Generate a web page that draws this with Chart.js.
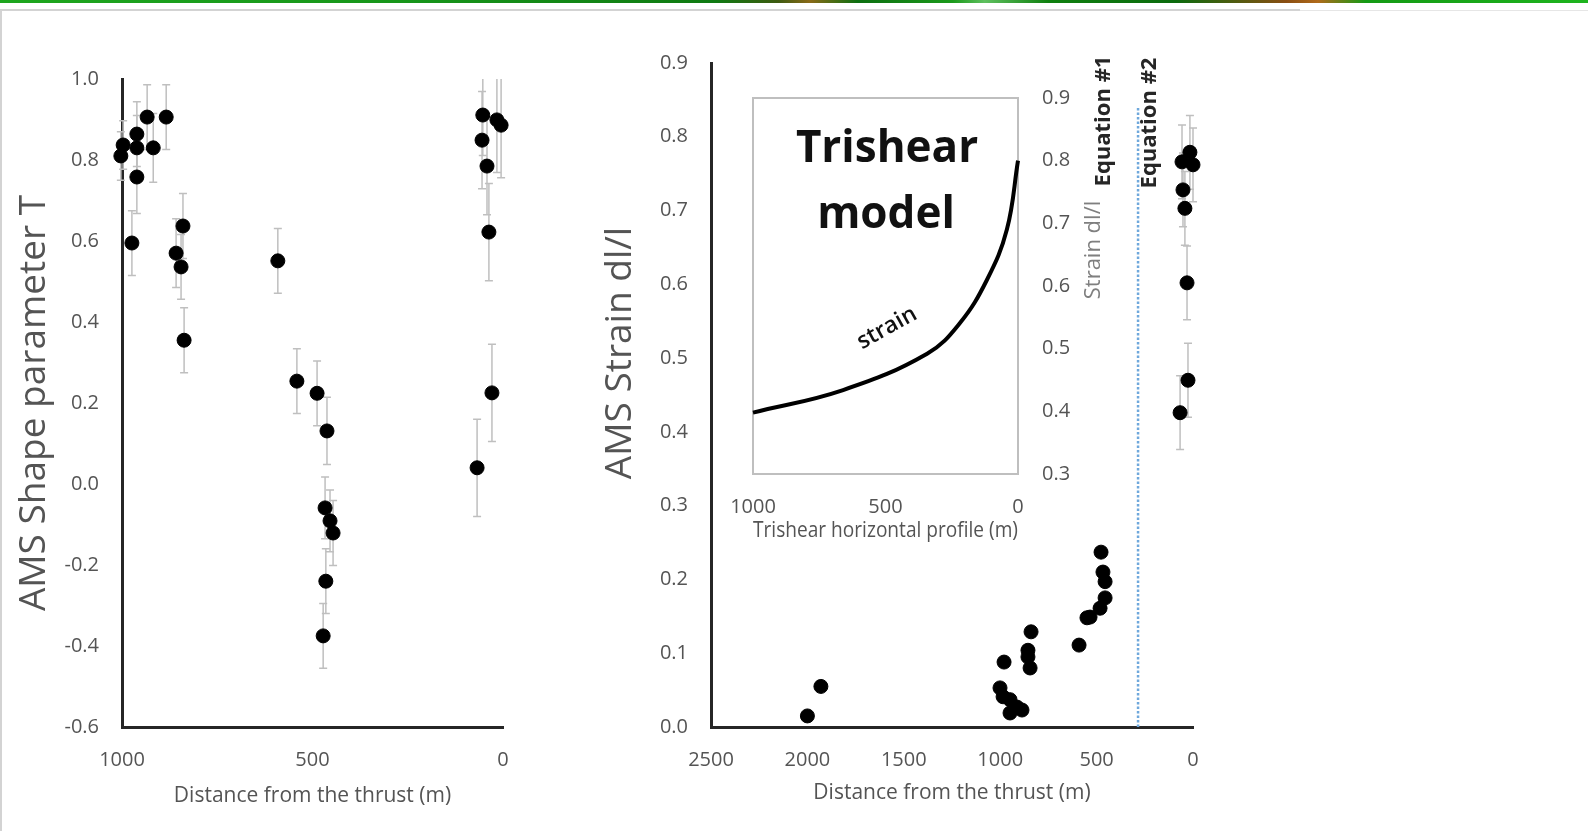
<!DOCTYPE html>
<html>
<head>
<meta charset="utf-8">
<title>AMS shape parameter and strain vs distance from the thrust</title>
<script src="https://cdn.jsdelivr.net/npm/chart.js@4.4.0/dist/chart.umd.min.js"></script>
<style>
  html, body { margin: 0; padding: 0; background: #fff; }
  body { width: 1588px; height: 831px; position: relative; overflow: hidden; }
  #topbar {
    position: absolute; left: 0; top: 0; width: 1588px; height: 3px;
    background: linear-gradient(90deg, #1ea61e 0%, #17961a 25%, #0f7a12 45%, #3d5a10 49%, #8a6a18 51%, #0c6e10 54%,
      #1b9a1b 60%, #5fc05f 62%, #0f800f 66%, #0b6a0d 74%, #8a4e12 81%, #b06a1a 83%, #149a14 86%, #1eb41e 100%);
  }
  #frame {
    position: absolute; left: 0; top: 9px; width: 1300px; height: 822px;
    border-top: 2px solid #d3d3d3; border-left: 2px solid #d3d3d3; box-sizing: border-box;
  }
  #frame2 { position: absolute; left: 1300px; top: 10px; width: 288px; height: 1px; background: #e6e6e6; }
  canvas { position: absolute; }
  #shapeChart { left: 0; top: 0; }
  #strainChart { left: 560px; top: 0; }
  #insetChart { left: 700px; top: 60px; }
</style>
</head>
<body>
<div id="topbar"></div>
<div id="frame"></div>
<div id="frame2"></div>
<canvas id="shapeChart" width="560" height="831"></canvas>
<canvas id="strainChart" width="740" height="831"></canvas>
<canvas id="insetChart" width="430" height="500"></canvas>
<script>
  // left panel: AMS shape parameter T
  const shapeDist = [1003, 997, 961, 961, 961, 934, 918, 884, 974, 858, 845, 840, 837,
    591, 541, 488, 462, 467, 454, 446, 465, 472, 68, 29, 37, 42, 55, 53, 16, 5];
  const shapeT = [0.81, 0.837, 0.83, 0.864, 0.758, 0.906, 0.83, 0.906, 0.595, 0.57, 0.536, 0.637, 0.355,
    0.551, 0.254, 0.224, 0.131, -0.059, -0.091, -0.121, -0.24, -0.375, 0.04, 0.225, 0.622, 0.785, 0.849, 0.911, 0.899, 0.886];
  const shapeErr = [0.06, 0.06, 0.08, 0.08, 0.09, 0.08, 0.085, 0.08, 0.08, 0.085, 0.08, 0.08, 0.08,
    0.08, 0.08, 0.08, 0.083, 0.076, 0.076, 0.08, 0.08, 0.08, 0.12, 0.12, 0.12, 0.12, 0.12, 0.1, 0.13, 0.13];

  // right panel: AMS strain dl/l
  const strainDist = [2000, 1930, 980, 1001, 985, 949, 913, 887, 949, 840, 856, 856, 845,
    591, 550, 534, 482, 456, 456, 467, 477, 67, 26, 31, 42, 52, 57, 16, 0];
  const strainVal = [0.015, 0.055, 0.088, 0.053, 0.041, 0.037, 0.027, 0.023, 0.019, 0.129, 0.104, 0.095, 0.080,
    0.111, 0.148, 0.149, 0.161, 0.175, 0.197, 0.210, 0.237, 0.426, 0.470, 0.602, 0.703, 0.728, 0.766, 0.779, 0.762];
  const strainErr = [0.006, 0.006, 0.006, 0.006, 0.006, 0.006, 0.006, 0.006, 0.006, 0.006, 0.006, 0.006, 0.006,
    0.006, 0.006, 0.006, 0.006, 0.006, 0.006, 0.006, 0.006, 0.05, 0.05, 0.05, 0.05, 0.05, 0.05, 0.05, 0.05];

  // dotted limit line between equation #1 and #2
  const eqLineDist = 285;
  const eqLineTop = 0.84;

  // inset: trishear model strain profile
  const trishearDist = [1000, 660, 343, 219, 117, 42, 0];
  const trishearStrain = [0.398, 0.434, 0.492, 0.541, 0.61, 0.69, 0.80];

  Chart.defaults.font.family = "'Open Sans', sans-serif";
  Chart.defaults.color = '#545454';

  const fmt1 = v => (Math.abs(v) < 1e-9 ? 0 : v).toFixed(1);

  const errorBars = {
    id: 'errorBars',
    beforeDatasetsDraw(chart) {
      const { ctx, chartArea, scales } = chart;
      ctx.save();
      ctx.beginPath();
      ctx.rect(chartArea.left - 30, chartArea.top, chartArea.width + 60, chartArea.height);
      ctx.clip();
      ctx.strokeStyle = '#bfbfbf';
      ctx.lineWidth = 1.5;
      chart.data.datasets.forEach(ds => {
        if (!ds.errors) return;
        ds.data.forEach((p, i) => {
          const e = ds.errors[i];
          const x = scales.x.getPixelForValue(p.x);
          const y1 = scales.y.getPixelForValue(p.y + e);
          const y2 = scales.y.getPixelForValue(p.y - e);
          ctx.beginPath();
          ctx.moveTo(x, y1); ctx.lineTo(x, y2);
          ctx.moveTo(x - 4, y1); ctx.lineTo(x + 4, y1);
          ctx.moveTo(x - 4, y2); ctx.lineTo(x + 4, y2);
          ctx.stroke();
        });
      });
      ctx.restore();
    }
  };

  const notes = {
    id: 'notes',
    afterDraw(chart, args, opts) {
      const ctx = chart.ctx;
      (opts.items || []).forEach(n => {
        ctx.save();
        ctx.translate(n.x, n.y);
        ctx.rotate((n.angle || 0) * Math.PI / 180);
        ctx.font = n.font;
        ctx.fillStyle = n.color;
        ctx.textAlign = 'center';
        ctx.textBaseline = n.baseline || 'middle';
        ctx.fillText(n.text, 0, 0);
        ctx.restore();
      });
    }
  };

  const frameBox = {
    id: 'frameBox',
    beforeDatasetsDraw(chart) {
      const { ctx, chartArea } = chart;
      ctx.save();
      ctx.strokeStyle = '#bfbfbf';
      ctx.lineWidth = 2;
      ctx.strokeRect(chartArea.left, chartArea.top, chartArea.width, chartArea.height);
      ctx.restore();
    }
  };

  const axisBorder = { display: true, color: '#262626', width: 3 };
  const noGrid = { display: false, drawTicks: false };

  new Chart(document.getElementById('shapeChart'), {
    type: 'scatter',
    data: {
      datasets: [{
        data: shapeDist.map((d, i) => ({ x: d, y: shapeT[i] })),
        errors: shapeErr,
        backgroundColor: '#000',
        borderColor: '#000',
        pointRadius: 7,
        pointHoverRadius: 7,
        clip: false
      }]
    },
    options: {
      responsive: false,
      animation: false,
      layout: { padding: { top: 79, right: 57, left: 0, bottom: 0 } },
      plugins: { legend: { display: false }, tooltip: { enabled: false } },
      scales: {
        x: {
          type: 'linear', min: 0, max: 1000, reverse: true,
          grid: noGrid, border: axisBorder,
          ticks: { stepSize: 500, padding: 21, font: { size: 20 }, maxRotation: 0, callback: v => String(v) },
          title: { display: true, text: 'Distance from the thrust (m)', font: { size: 21 }, padding: { top: 0, bottom: 22 } },
          afterFit: s => { s.height = 104; }
        },
        y: {
          min: -0.6, max: 1.0,
          grid: noGrid, border: axisBorder,
          ticks: { stepSize: 0.2, padding: 23, font: { size: 20 }, callback: v => fmt1(v) },
          title: { display: true, text: 'AMS Shape parameter T', font: { size: 37 }, padding: { top: 12, bottom: 0 } },
          afterFit: s => { s.width = 122; }
        }
      }
    },
    plugins: [errorBars]
  });

  new Chart(document.getElementById('strainChart'), {
    type: 'scatter',
    data: {
      datasets: [{
        data: strainDist.map((d, i) => ({ x: d, y: strainVal[i] })),
        errors: strainErr,
        backgroundColor: '#000',
        borderColor: '#000',
        pointRadius: 7,
        pointHoverRadius: 7,
        clip: false,
        order: 1
      }, {
        type: 'line',
        data: [{ x: eqLineDist, y: 0 }, { x: eqLineDist, y: eqLineTop }],
        borderColor: '#6fa8dc',
        borderWidth: 2.5,
        borderDash: [2.5, 2],
        pointRadius: 0,
        order: 2
      }]
    },
    options: {
      responsive: false,
      animation: false,
      layout: { padding: { top: 63, right: 107, left: 0, bottom: 0 } },
      plugins: {
        legend: { display: false }, tooltip: { enabled: false },
        notes: {
          items: [
            { text: 'AMS Strain dl/l', x: 60, y: 353, angle: -90, font: "37px 'Open Sans'", color: '#545454' },
            { text: 'Equation #1', x: 544, y: 121, angle: -90, font: "bold 22px 'Open Sans'", color: '#262626' },
            { text: 'Equation #2', x: 590, y: 123, angle: -90, font: "bold 22px 'Open Sans'", color: '#262626' }
          ]
        }
      },
      scales: {
        x: {
          type: 'linear', min: 0, max: 2500, reverse: true,
          grid: noGrid, border: axisBorder,
          ticks: { stepSize: 500, padding: 21, font: { size: 20 }, maxRotation: 0, callback: v => String(v) },
          title: { display: true, text: 'Distance from the thrust (m)', font: { size: 21 }, padding: { top: 0, bottom: 25 } },
          afterFit: s => { s.height = 104; }
        },
        y: {
          min: 0, max: 0.9,
          grid: noGrid, border: axisBorder,
          ticks: { stepSize: 0.1, padding: 23, font: { size: 20 }, callback: v => fmt1(v) },
          afterFit: s => { s.width = 151; }
        }
      }
    },
    plugins: [errorBars, notes]
  });

  new Chart(document.getElementById('insetChart'), {
    type: 'scatter',
    data: {
      datasets: [{
        type: 'line',
        data: trishearDist.map((d, i) => ({ x: d, y: trishearStrain[i] })),
        borderColor: '#000',
        borderWidth: 4,
        tension: 0.4,
        pointRadius: 0,
        clip: false
      }]
    },
    options: {
      responsive: false,
      animation: false,
      layout: { padding: { top: 38, right: 0, left: 53, bottom: 0 } },
      plugins: {
        legend: { display: false }, tooltip: { enabled: false },
        notes: {
          items: [
            { text: 'Trishear', x: 187, y: 102, baseline: 'alphabetic', font: "bold 44px 'Open Sans'", color: '#111' },
            { text: 'model', x: 186, y: 168, baseline: 'alphabetic', font: "bold 44px 'Open Sans'", color: '#111' },
            { text: 'strain', x: 187, y: 268, angle: -29, font: "600 23px 'Open Sans'", color: '#111' },
            { text: 'Strain dl/l', x: 394, y: 190, angle: -90, font: "22px 'Open Sans'", color: '#7f7f7f' }
          ]
        }
      },
      scales: {
        x: {
          type: 'linear', min: 0, max: 1000, reverse: true,
          grid: noGrid, border: { display: false },
          ticks: { stepSize: 500, padding: 21, font: { size: 20 }, maxRotation: 0, callback: v => String(v) },
          title: { display: true, text: 'Trishear horizontal profile (m)', font: { size: 21 }, padding: { top: 0, bottom: 16 } },
          afterFit: s => { s.height = 86; }
        },
        y: {
          position: 'right', min: 0.3, max: 0.9,
          grid: noGrid, border: { display: false },
          ticks: { stepSize: 0.1, padding: 24, font: { size: 20 }, callback: v => fmt1(v) },
          afterFit: s => { s.width = 112; }
        }
      }
    },
    plugins: [frameBox, notes]
  });
</script>
</body>
</html>
